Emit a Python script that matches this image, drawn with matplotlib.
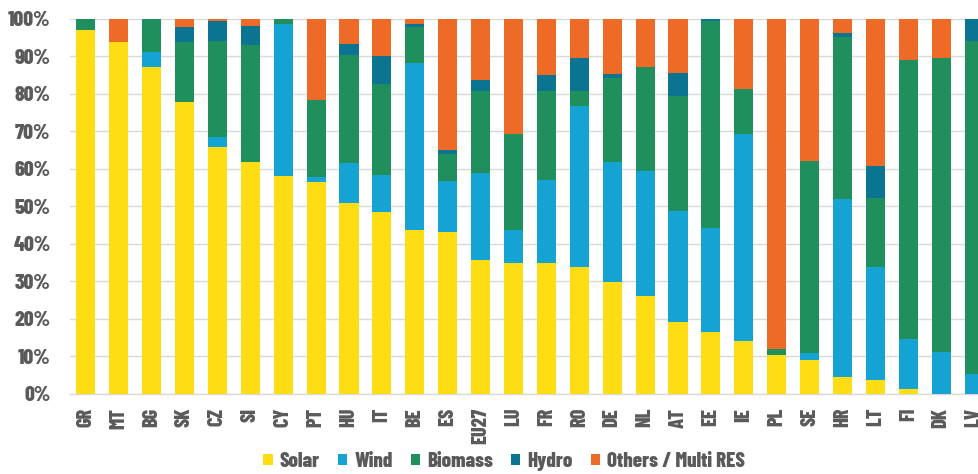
import matplotlib
matplotlib.use("Agg")
import matplotlib.pyplot as plt
import numpy as np
from matplotlib.patches import Patch

countries = ["GR", "MT", "BG", "SK", "CZ", "SI", "CY", "PT", "HU", "IT", "BE", "ES", "EU27", "LU",
             "FR", "RO", "DE", "NL", "AT", "EE", "IE", "PL", "SE", "HR", "LT", "FI", "DK", "LV"]
solar   = [97.0, 93.8, 87.2, 77.8, 65.8, 61.9, 58.1, 56.5, 51.0, 48.6, 43.8, 43.1, 35.8, 34.8,
           34.8, 33.9, 29.8, 26.0, 19.3, 16.6, 14.0, 10.5, 9.1, 4.5, 3.6, 1.2, 0.0, 0.0]
wind    = [0.0, 0.0, 4.0, 0.0, 2.6, 0.0, 40.4, 1.3, 10.6, 9.7, 44.3, 13.7, 23.1, 8.9,
           22.3, 42.9, 32.1, 33.5, 29.4, 27.6, 55.2, 0.0, 1.8, 47.4, 30.3, 13.4, 11.2, 5.2]
biomass = [3.0, 0.0, 8.8, 16.1, 25.7, 31.1, 1.5, 20.6, 28.6, 24.3, 9.8, 7.2, 21.8, 25.7,
           23.5, 3.8, 22.4, 27.7, 30.7, 55.3, 12.1, 1.6, 51.2, 43.2, 18.3, 74.3, 78.2, 88.9]
hydro   = [0.0, 0.0, 0.0, 3.9, 5.3, 5.1, 0.0, 0.0, 3.0, 7.5, 0.8, 1.0, 2.9, 0.0,
           4.5, 9.0, 1.0, 0.0, 6.2, 0.3, 0.0, 0.0, 0.0, 1.0, 8.5, 0.0, 0.0, 5.9]
others  = [0.0, 6.2, 0.0, 2.2, 0.6, 1.9, 0.0, 21.6, 6.8, 9.9, 1.3, 35.0, 16.4, 30.6,
           14.9, 10.4, 14.7, 12.8, 14.4, 0.2, 18.7, 87.9, 37.9, 3.9, 39.3, 11.1, 10.6, 0.0]
series_names = ["Solar", "Wind", "Biomass", "Hydro", "Others / Multi RES"]
yticks = [0, 10, 20, 30, 40, 50, 60, 70, 80, 90, 100]

colors = ["#FFDD14", "#15A3D3", "#1F8F5D", "#0B7491", "#EE6A27"]
data = [solar, wind, biomass, hydro, others]

font = ["Barlow Condensed", "DejaVu Sans"]
grey = "#5A5A5A"
wt = 800

fig = plt.figure(figsize=(9.79, 4.74), dpi=100)
ax = fig.add_axes([0.0715, 0.1688, 0.9285, 0.7918])

x = np.arange(len(countries))
bottom = np.zeros(len(countries))
for vals, col in zip(data, colors):
    v = np.array(vals)
    ax.bar(x, v, bottom=bottom, width=0.58, color=col, edgecolor="none", zorder=3)
    bottom += v

ax.set_xlim(-0.48, 27.15)
ax.set_ylim(0, 100)
ax.set_yticks(yticks)
ax.set_yticklabels([f"{t}%" for t in yticks], fontfamily=font, fontweight=wt,
                   fontsize=15.5, color=grey)
ax.set_xticks(x)
ax.set_xticklabels(countries, rotation=90, fontfamily=font, fontweight=wt,
                   fontsize=14.5, color=grey)
ax.tick_params(axis="both", length=0)
ax.tick_params(axis="x", pad=10)
ax.tick_params(axis="y", pad=14)
ax.grid(axis="y", color="#D9D9D9", linewidth=1, zorder=0)
for s in ["top", "right", "left"]:
    ax.spines[s].set_visible(False)
ax.spines["bottom"].set_color("#D9D9D9")
ax.spines["bottom"].set_linewidth(1)

handles = [Patch(facecolor=c, edgecolor="none") for c in colors]
fig.legend(handles, series_names, loc="center", bbox_to_anchor=(0.515, 0.027), ncol=5,
           frameon=False, prop={"family": font, "weight": wt, "size": 15},
           labelcolor=grey, handlelength=0.45, handleheight=0.45, handletextpad=0.35,
           columnspacing=0.85, borderpad=0.2)

fig.savefig("out.png", dpi=100)
